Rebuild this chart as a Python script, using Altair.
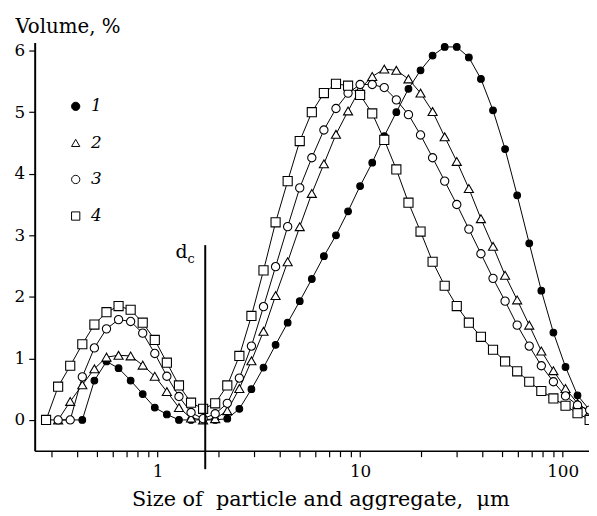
import altair as alt
import pandas as pd

# particle size bins (um)
size_um = [0.2817, 0.3231, 0.3707, 0.4253, 0.4879, 0.5598, 0.6422, 0.7367, 0.8451, 0.9694,
           1.112, 1.276, 1.464, 1.679, 1.926, 2.210, 2.535, 2.908, 3.336, 3.827,
           4.390, 5.036, 5.777, 6.627, 7.603, 8.722, 10.00, 11.48, 13.16, 15.10,
           17.33, 19.88, 22.80, 26.16, 30.01, 34.43, 39.49, 45.31, 51.97, 59.63,
           68.39, 78.47, 90.01, 103.3, 118.4, 135.9]

vol_1 = [0, 0, 0, 0, 0.64, 0.95, 0.84, 0.64, 0.42, 0.2, 0.09, 0.0, 0, 0, 0,
         0.02, 0.18, 0.5, 0.85, 1.22, 1.58, 1.93, 2.29, 2.66, 3.0, 3.39, 3.8, 4.18,
         4.61, 5.0, 5.38, 5.68, 5.92, 6.06, 6.06, 5.89, 5.54, 5.03, 4.4, 3.65, 2.87,
         2.1, 1.42, 0.86, 0.4, 0.16]
vol_2 = [None, 0, 0.3, 0.57, 0.83, 1.02, 1.05, 1.04, 0.89, 0.71, 0.46, 0.2, 0.03,
         0, 0.02, 0.15, 0.51, 0.96, 1.44, 2.02, 2.57, 3.14, 3.68, 4.16, 4.64, 5.02,
         5.38, 5.58, 5.7, 5.68, 5.54, 5.31, 5.01, 4.6, 4.2, 3.76, 3.27, 2.82, 2.35,
         1.95, 1.54, 1.12, 0.8, 0.51, 0.27, 0.13]
vol_3 = [None, 0, 0, 0.7, 1.17, 1.48, 1.63, 1.6, 1.41, 1.08, 0.71, 0.38, 0.12,
         0.02, 0.1, 0.27, 0.68, 1.2, 1.84, 2.49, 3.14, 3.77, 4.26, 4.71, 5.06, 5.31,
         5.45, 5.45, 5.4, 5.2, 4.96, 4.63, 4.26, 3.88, 3.5, 3.1, 2.7, 2.3, 1.93,
         1.54, 1.2, 0.88, 0.62, 0.39, 0.24, 0.16]
vol_4 = [0, 0.54, 0.88, 1.23, 1.55, 1.75, 1.85, 1.79, 1.58, 1.3, 0.93, 0.56, 0.28,
         0.18, 0.27, 0.56, 1.04, 1.69, 2.43, 3.21, 3.88, 4.53, 5.0, 5.31, 5.46, 5.43,
         5.28, 4.98, 4.55, 4.07, 3.53, 3.06, 2.57, 2.18, 1.85, 1.58, 1.35, 1.14, 0.95,
         0.79, 0.62, 0.47, 0.35, 0.23, 0.11, 0.0]

series_names = ["1", "2", "3", "4"]
series_vals = [vol_1, vol_2, vol_3, vol_4]
series_shapes = ["circle", "triangle-up", "circle", "square"]
series_fills = ["black", "white", "white", "white"]
series_strokes = ["black", "black", "black", "black"]
series_sizes = [46, 85, 70, 85]

x_ticks = [0.3, 0.4, 0.5, 0.6, 0.7, 0.8, 0.9, 1, 2, 3, 4, 5, 6, 7, 8, 9,
           10, 20, 30, 40, 50, 60, 70, 80, 90, 100]
y_ticks = [0, 0.5, 1, 1.5, 2, 2.5, 3, 3.5, 4, 4.5, 5, 5.5, 6]

dc_value = [1.72]
dc_top = [2.84]
dc_bottom = [-0.8]
dc_label_y = [2.63]

rows = []
for name, vals, sz in zip(series_names, series_vals, series_sizes):
    for i, (x, v) in enumerate(zip(size_um, vals)):
        if v is not None:
            rows.append({"size": x, "vol": v, "series": name, "k": i, "msize": sz})
df = pd.DataFrame(rows)

FONT = "DejaVu Serif"
x_scale = alt.Scale(type="log", domain=[0.2475, 134.9], nice=False)
y_scale = alt.Scale(domain=[-0.5, 6.13], nice=False, zero=False)

x_axis = alt.Axis(
    values=x_ticks,
    labelExpr="(datum.value == 1 || datum.value == 10 || datum.value == 100) ? format(datum.value, 'd') : ''",
    tickSize=6, labelPadding=7, labelFlush=False, labelOverlap=False,
    title="Size of\u00a0\u00a0particle and aggregate,\u00a0\u00a0μm",
    titleX=289, titleY=55, titleBaseline="alphabetic", titleAlign="center",
    titleFontSize=21, domainWidth=1.5,
)
y_axis = alt.Axis(
    values=y_ticks,
    labelExpr="datum.value % 1 == 0 ? format(datum.value, 'd') : ''",
    tickSize=6, labelPadding=4, labelOverlap=False,
    title="Volume, %", titleAngle=0, titleAlign="left", titleX=-20, titleY=-10,
    titleBaseline="alphabetic", titleFontSize=20,
    domainWidth=2,
)

legend = alt.Legend(
    title=None, orient="none", legendX=33, legendY=56,
    labelFont=FONT, labelFontSize=17, labelFontStyle="italic", labelColor="black",
    symbolStrokeColor="black", symbolStrokeWidth=1, symbolSize=70,
    rowPadding=19, labelOffset=7, padding=0,
)

base = alt.Chart(df)

lines = base.mark_line(color="black", strokeWidth=1).encode(
    x=alt.X("size:Q", scale=x_scale, axis=x_axis),
    y=alt.Y("vol:Q", scale=y_scale, axis=y_axis),
    detail="series:N",
    order="k:Q",
)

points = base.mark_point(strokeWidth=1.1, opacity=1).encode(
    x=alt.X("size:Q", scale=x_scale),
    y=alt.Y("vol:Q", scale=y_scale),
    shape=alt.Shape("series:N", scale=alt.Scale(domain=series_names, range=series_shapes),
                    legend=legend),
    fill=alt.Fill("series:N", scale=alt.Scale(domain=series_names, range=series_fills),
                  legend=legend),
    stroke=alt.Stroke("series:N", scale=alt.Scale(domain=series_names, range=series_strokes),
                      legend=legend),
    size=alt.Size("msize:Q", scale=None),
)

dc_df = pd.DataFrame({"x": dc_value, "top": dc_top, "bottom": dc_bottom, "ly": dc_label_y})
rule = alt.Chart(dc_df).mark_rule(color="black", strokeWidth=2).encode(
    x=alt.X("x:Q", scale=x_scale),
    y=alt.Y("top:Q", scale=y_scale),
    y2="bottom:Q",
)
d_text = alt.Chart(dc_df).mark_text(font=FONT, fontSize=19, align="right",
                                     baseline="alphabetic", dx=-18, color="black").encode(
    x=alt.X("x:Q", scale=x_scale), y=alt.Y("ly:Q", scale=y_scale), text=alt.value("d"))
c_text = alt.Chart(dc_df).mark_text(font=FONT, fontSize=13, align="left",
                                     baseline="alphabetic", dx=-18, dy=5, color="black").encode(
    x=alt.X("x:Q", scale=x_scale), y=alt.Y("ly:Q", scale=y_scale), text=alt.value("c"))

chart = alt.layer(lines, points, rule, d_text, c_text).properties(
    width=561, height=413,
    padding={"left": 27, "top": 32, "right": 0, "bottom": 60},
    autosize=alt.AutoSizeParams(type="none"),
).configure_view(stroke=None).configure_axis(
    grid=False, domainColor="black", tickColor="black", labelColor="black",
    titleColor="black", labelFont=FONT, labelFontSize=17, titleFont=FONT,
    titleFontWeight="normal", tickWidth=1.2,
)

chart.save("out.html", embed_options={"renderer": "svg", "actions": False})
